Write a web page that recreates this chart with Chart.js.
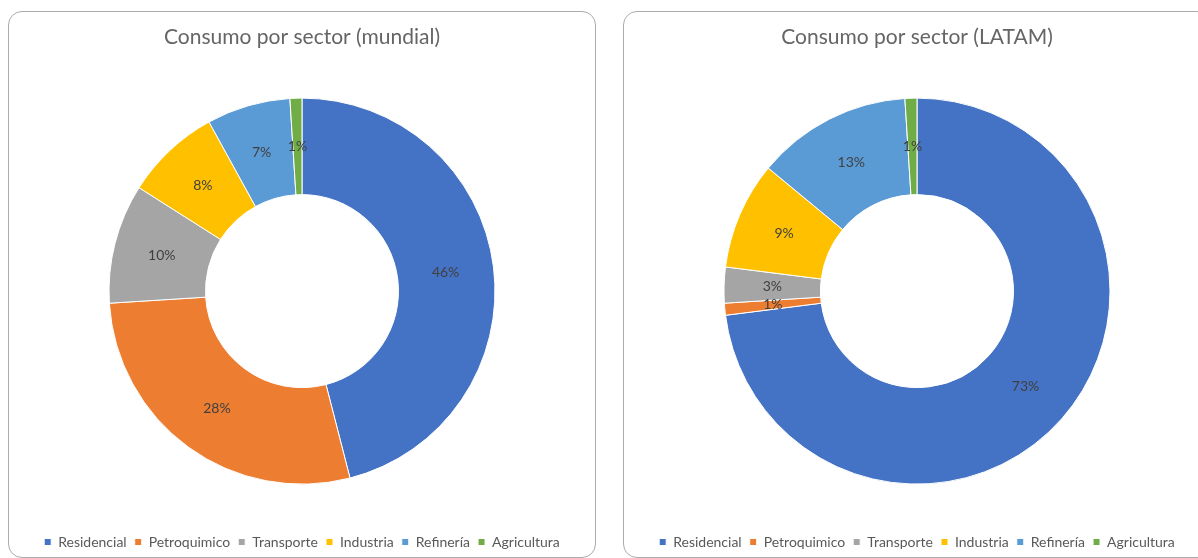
<!DOCTYPE html>
<html>
<head>
<meta charset="utf-8">
<script src="https://cdn.jsdelivr.net/npm/chart.js@4.4.1/dist/chart.umd.min.js"></script>
<style>
  html, body { margin: 0; padding: 0; background: #ffffff; width: 1198px; height: 558px; overflow: hidden; }
  .panel { position: absolute; top: 11px; height: 547px; border: 1px solid #ababab; border-radius: 14px; background: #fff; box-sizing: border-box; }
  #p1 { left: 8px; width: 588px; }
  #p2 { left: 623px; width: 588px; }
  .panel canvas { position: absolute; left: 0; top: 0; }
</style>
</head>
<body>
<div class="panel" id="p1"><canvas id="c1" width="586" height="547"></canvas></div>
<div class="panel" id="p2"><canvas id="c2" width="586" height="547"></canvas></div>
<script>
const categories = ['Residencial', 'Petroquimico', 'Transporte', 'Industria', 'Refinería', 'Agricultura'];
const mundialValues = [46, 28, 10, 8, 7, 1];
const latamValues = [73, 1, 3, 9, 13, 1];
const titles = ['Consumo por sector (mundial)', 'Consumo por sector (LATAM)'];
const colors = ['#4472C4', '#ED7D31', '#A5A5A5', '#FFC000', '#5B9BD5', '#70AD47'];

const FONT = 'Lato, "Open Sans", sans-serif';

const labelPlugin = {
  id: 'sliceLabels',
  afterDatasetsDraw(chart) {
    const ctx = chart.ctx;
    const meta = chart.getDatasetMeta(0);
    const data = chart.data.datasets[0].data;
    ctx.save();
    ctx.font = '14px ' + FONT;
    ctx.fillStyle = '#404040';
    ctx.textAlign = 'center';
    ctx.textBaseline = 'middle';
    meta.data.forEach((arc, i) => {
      const p = arc.tooltipPosition();
      ctx.fillText(data[i] + '%', p.x, p.y);
    });
    ctx.restore();
  }
};

function makeChart(id, title, values) {
  return new Chart(document.getElementById(id), {
    type: 'doughnut',
    data: {
      labels: categories,
      datasets: [{
        data: values,
        backgroundColor: colors,
        borderColor: '#ffffff',
        borderWidth: 1
      }]
    },
    options: {
      responsive: false,
      animation: false,
      cutout: '50%',
      radius: 193,
      layout: { padding: 0 },
      plugins: {
        title: {
          display: true,
          text: title,
          color: '#656565',
          font: { family: FONT, size: 21, weight: 'normal' },
          padding: { top: 13, bottom: 5 }
        },
        legend: {
          display: true,
          position: 'bottom',
          labels: {
            color: '#595959',
            font: { family: FONT, size: 14 },
            boxWidth: 7,
            boxHeight: 7,
            padding: 8
          }
        },
        tooltip: { enabled: false }
      }
    },
    plugins: [labelPlugin]
  });
}

makeChart('c1', titles[0], mundialValues);
makeChart('c2', titles[1], latamValues);
</script>
</body>
</html>
